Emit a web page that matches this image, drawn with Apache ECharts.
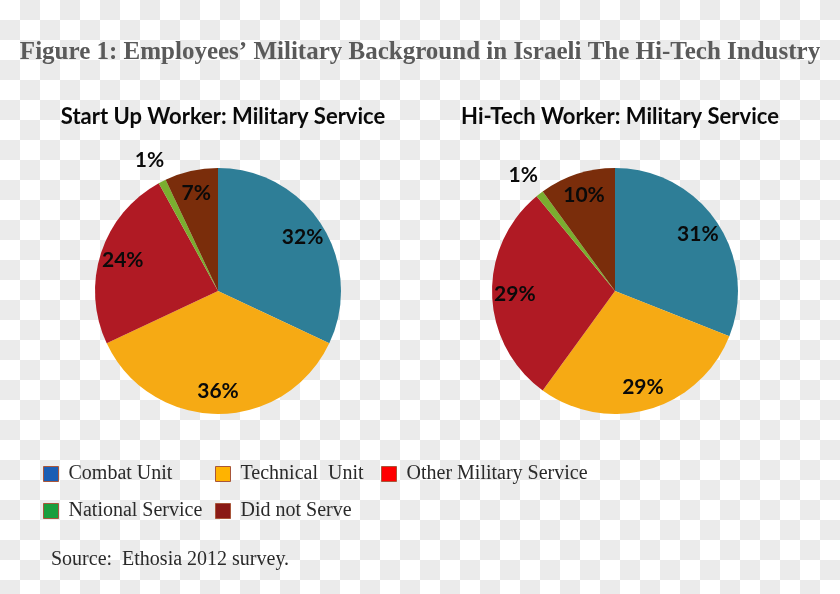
<!DOCTYPE html>
<html>
<head>
<meta charset="utf-8">
<script src="https://cdn.jsdelivr.net/npm/echarts@6/dist/echarts.min.js"></script>
<style>
html,body{margin:0;padding:0;}
body{
  width:840px;height:594px;overflow:hidden;
  background-color:#fff;
  background-image:conic-gradient(#ebebeb 0 25%, #fff 0 50%, #ebebeb 0 75%, #fff 0);
  background-size:40px 40px;
}
#chart{width:840px;height:594px;}
</style>
</head>
<body>
<div id="chart"></div>
<script>
// ---- data ----
var categories = ['Combat Unit', 'Technical  Unit', 'Other Military Service', 'National Service', 'Did not Serve'];
var startUpValues = [32, 36, 24, 1, 7];
var hiTechValues = [31, 29, 29, 1, 10];
var chartTitle = 'Figure 1: Employees\u2019 Military Background in Israeli The Hi-Tech Industry';
var pieTitles = ['Start Up Worker: Military Service', 'Hi-Tech Worker: Military Service'];
var sourceNote = 'Source:  Ethosia 2012 survey.';

// ---- styles ----
var sliceColors = ['#2e7e97', '#f6aa14', '#b01a24', '#7aae2f', '#7a2d0b'];
var legendColors = ['#1a5db4', '#ffb300', '#ff0000', '#1a9e3c', '#8a1a16'];
var legendPos = [[43, 464], [215, 464], [381, 464], [43, 501], [215, 501]];
var outsideIndex = 3;
var R = 123;
var centers = [[218, 291], [615, 291]];

var chart = echarts.init(document.getElementById('chart'));

function baseData(values) {
  return values.map(function (v, i) {
    return { name: categories[i], value: v, itemStyle: { color: sliceColors[i] } };
  });
}
function labelData(values) {
  return values.map(function (v, i) {
    var d = { name: categories[i], value: v, itemStyle: { color: 'rgba(0,0,0,0)' } };
    if (i === outsideIndex) {
      d.label = { position: 'outside', distanceToLabelLine: -13 };
      d.labelLine = { show: false, length: 24, length2: 0 };
    }
    return d;
  });
}

var series = [];
[startUpValues, hiTechValues].forEach(function (vals, k) {
  series.push({
    type: 'pie',
    center: centers[k],
    radius: [0, R],
    startAngle: 90,
    clockwise: true,
    silent: true,
    label: { show: false },
    labelLine: { show: false },
    emphasis: { disabled: true },
    data: baseData(vals)
  });
  series.push({
    type: 'pie',
    center: centers[k],
    radius: [R * 0.58, R],
    startAngle: 90,
    clockwise: true,
    silent: true,
    avoidLabelOverlap: false,
    emphasis: { disabled: true },
    label: {
      show: true,
      position: 'inside',
      formatter: '{c}%',
      color: '#0a0a0a',
      fontFamily: 'Lato',
      fontWeight: 'bold',
      fontSize: 21
    },
    labelLine: { show: false },
    data: labelData(vals)
  });
});

var legends = categories.map(function (name, i) {
  return {
    left: legendPos[i][0],
    top: legendPos[i][1],
    padding: 0,
    itemWidth: 15,
    itemHeight: 15,
    icon: 'rect',
    selectedMode: false,
    textStyle: {
      fontFamily: 'Liberation Serif',
      fontSize: 20,
      color: '#2a2a2a',
      padding: [0, 0, 0, 5]
    },
    data: [{
      name: name,
      itemStyle: { color: legendColors[i], borderColor: '#a8563a', borderWidth: 1 }
    }]
  };
});

chart.setOption({
  animation: false,
  title: [
    {
      text: chartTitle,
      left: 'center',
      top: 35,
      textStyle: { fontFamily: 'Liberation Serif', fontWeight: 'bold', fontSize: 25, color: '#5a5a5a' }
    },
    {
      text: pieTitles[0],
      left: 218,
      top: 101,
      textAlign: 'center',
      textStyle: { fontFamily: 'Lato', fontWeight: 'bold', fontSize: 22, color: '#0a0a0a' }
    },
    {
      text: pieTitles[1],
      left: 615,
      top: 101,
      textAlign: 'center',
      textStyle: { fontFamily: 'Lato', fontWeight: 'bold', fontSize: 22, color: '#0a0a0a' }
    },
    {
      text: sourceNote,
      left: 46,
      top: 545,
      textStyle: { fontFamily: 'Liberation Serif', fontWeight: 'normal', fontSize: 20, color: '#2a2a2a' }
    }
  ],
  legend: legends,
  series: series
});
</script>
</body>
</html>
